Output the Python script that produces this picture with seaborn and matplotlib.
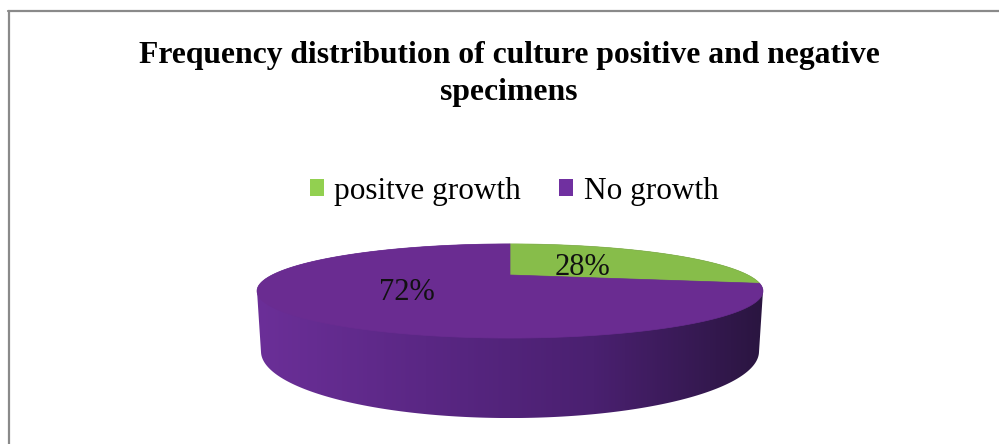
import numpy as np
import matplotlib
matplotlib.use("Agg")
import matplotlib.pyplot as plt
import seaborn as sns
from matplotlib.patches import Patch, Polygon
from matplotlib.colors import LinearSegmentedColormap
from matplotlib.lines import Line2D

# ---- data ----
categories = ["positve growth", "No growth"]
values = [28, 72]
title = "Frequency distribution of culture positive and negative\nspecimens"

# ---- style ----
legend_colors = ["#92d050", "#7030a0"]
top_colors = ["#87bd4a", "#6a2c91"]
label_radius = [0.43, 0.5]

sns.set_theme(style="white")
plt.rcParams["font.family"] = ["Liberation Serif", "DejaVu Serif"]
plt.rcParams["text.color"] = "black"

W, H = 999, 444
fig = plt.figure(figsize=(W / 100, H / 100), dpi=100)
fig.patch.set_facecolor("white")
ax = fig.add_axes([0, 0, 1, 1])
ax.set_axis_off()

# pie geometry from the library
hx = fig.add_axes([0, 0, 0.05, 0.05])
wedges, _ = hx.pie(values, startangle=90, counterclock=False)
thetas = [(w.theta1, w.theta2) for w in wedges]
hx.remove()

# perspective camera (styling)
Xc, Yc, F, D = 510.0, 275.0, 690.0, 2.9
s_t, c_t = 0.175, 0.985
depth = 0.234


def proj(u, v, z):
    yc = z * c_t + v * s_t
    d = D + v * c_t - z * s_t
    return Xc + F * u / d, Yc - F * yc / d


# side silhouette: convex hull of top and bottom rims
t = np.radians(np.linspace(0, 360, 721))
xt, yt = proj(np.cos(t), np.sin(t), 0.0)
xb, yb = proj(np.cos(t), np.sin(t), -depth)
pts = sorted(set(zip(np.round(np.r_[xt, xb], 3), np.round(np.r_[yt, yb], 3))))


def cross(o, a, b):
    return (a[0] - o[0]) * (b[1] - o[1]) - (a[1] - o[1]) * (b[0] - o[0])


lower, upper = [], []
for p in pts:
    while len(lower) >= 2 and cross(lower[-2], lower[-1], p) <= 0:
        lower.pop()
    lower.append(p)
for p in reversed(pts):
    while len(upper) >= 2 and cross(upper[-2], upper[-1], p) <= 0:
        upper.pop()
    upper.append(p)
hull = np.array(lower[:-1] + upper[:-1])

side_cmap = LinearSegmentedColormap.from_list(
    "side", ["#6b2f98", "#5a2784", "#4a2070", "#2a1540"])
grad = np.linspace(0, 1, 256)[None, :]
im = ax.imshow(grad, cmap=side_cmap, aspect="auto",
               extent=(hull[:, 0].min(), hull[:, 0].max(),
                       hull[:, 1].max(), hull[:, 1].min()),
               interpolation="bilinear", zorder=1)
clip = Polygon(hull, closed=True, transform=ax.transData, facecolor="none",
               edgecolor="none")
ax.add_patch(clip)
im.set_clip_path(clip)

# top face wedges
for (a1, a2), col, val, rl in zip(thetas, top_colors, values, label_radius):
    tt = np.radians(np.linspace(a1, a2, 200))
    px, py = proj(np.cos(tt), np.sin(tt), 0.0)
    cx, cy = proj(0.0, 0.0, 0.0)
    poly = np.c_[np.r_[cx, px], np.r_[cy, py]]
    ax.add_patch(Polygon(poly, closed=True, facecolor=col, edgecolor=col,
                         linewidth=0.5, zorder=2))
    mid = np.radians((a1 + a2) / 2)
    lx, ly = proj(rl * np.cos(mid), rl * np.sin(mid), 0.0)
    ax.text(lx, ly + 3, f"{val}%", ha="center", va="center", fontsize=22,
            color="#111111", zorder=3)

ax.set_xlim(0, W)
ax.set_ylim(H, 0)

# frame lines (top and left)
fig.add_artist(Line2D([8 / W, 1], [1 - 11 / H, 1 - 11 / H], color="#8a8a8a",
                      linewidth=1.6, transform=fig.transFigure))
fig.add_artist(Line2D([9 / W, 9 / W], [1 - 11 / H, 0], color="#8a8a8a",
                      linewidth=1.6, transform=fig.transFigure))

# title
fig.text(509 / W, 1 - 41 / H, title, ha="center", va="top", fontsize=22.8,
         fontweight="bold", linespacing=1.38, color="black")

# legend
handles = [Patch(facecolor=c, edgecolor="none", label=l)
           for c, l in zip(legend_colors, categories)]
leg = fig.legend(handles=handles, loc="center",
                 bbox_to_anchor=(514 / W, 1 - 191 / H),
                 ncol=2, frameon=False, fontsize=22.5, handlelength=0.45,
                 handleheight=0.45, handletextpad=0.35, columnspacing=1.2,
                 borderpad=0, borderaxespad=0)
for txt in leg.get_texts():
    txt.set_color("black")

fig.savefig("out.png", dpi=100, facecolor="white")
